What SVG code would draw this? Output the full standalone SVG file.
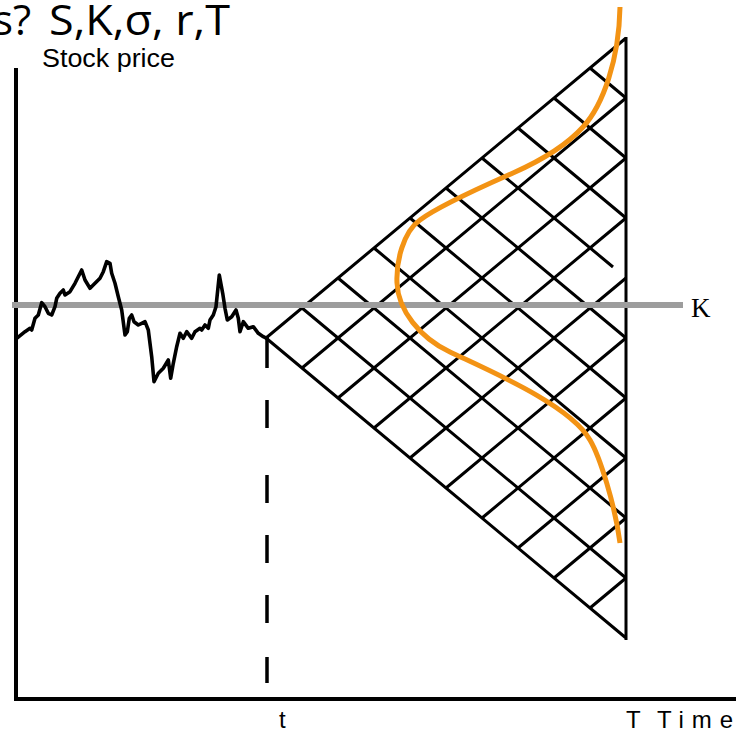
<svg xmlns="http://www.w3.org/2000/svg" width="736" height="731" viewBox="0 0 736 731">
<style>
.lat{stroke:#000;stroke-width:3;fill:none;stroke-linecap:butt}
.ax{stroke:#000;stroke-width:4;fill:none}
.lbl{font-family:"Liberation Sans",Arial,sans-serif;fill:#000}
</style>
<rect width="736" height="731" fill="#fff"/>
<g id="title">
<text class="lbl" style="font-family:'Open Sans','Liberation Sans',sans-serif" font-size="42" y="35"><tspan x="-7">s?</tspan><tspan x="49" textLength="181" lengthAdjust="spacingAndGlyphs">S,K,σ, r,T</tspan></text>
</g>
<g id="axes">
<line class="ax" x1="16" y1="68" x2="16" y2="701"/>
<line class="ax" x1="14" y1="699" x2="736" y2="699"/>
<text class="lbl" x="42" y="67" font-size="25" textLength="133" lengthAdjust="spacingAndGlyphs">Stock price</text>
<text class="lbl" x="279" y="728" font-size="24">t</text>
<text class="lbl" x="626" y="728" font-size="24">T</text>
<text class="lbl" x="657" y="728" font-size="24" textLength="76" lengthAdjust="spacing">Time</text>
</g>
<g id="lattice" class="lat">
<path d="M266,338 L626,38 M266,338 L626,638 M626,37 L626,640"/>
<path d="M302,308 L626,578 M338,278 L626,518 M374,248 L626,458 M410,218 L626,398 M446,188 L626,338 M482,158 L613,267 M518,128 L626,218 M554,98 L626,158 M590,68 L626,98"/>
<path d="M302,368 L626,98 M338,398 L626,158 M374,428 L626,218 M410,458 L626,278 M446,488 L626,338 M482,518 L626,398 M518,548 L626,458 M554,578 L626,518 M590,608 L626,578"/>
</g>
<g id="expiry-marker">
<path d="M267,337 V368 M267,400 V428 M267,475 V503 M267,535 V563 M267,595 V623 M267,657 V683" stroke="#000" stroke-width="3.5" fill="none"/>
</g>
<g id="strike">
<line x1="12" y1="305" x2="683" y2="305" stroke="#9d9d9d" stroke-width="6"/>
<text x="691" y="317" font-family="'Liberation Serif','Times New Roman',serif" font-size="27" fill="#000">K</text>
</g>
<g id="stock-path">
<polyline fill="none" stroke="#000" stroke-width="3.6" stroke-linejoin="round" stroke-linecap="round" points="16.7,338.3 25,331.7 30,328.3 31.7,330 35,318.3 38.3,315 41.7,302.7 45,306.7 48.3,313.3 51.7,315 55,306.7 56.7,298.3 60,293.3 63.3,290 65,295 70,291.7 75,283.3 81.7,270 85,280 90,288.3 95,283.3 100,278.3 103.3,271.7 106.7,261.7 110,263.3 111.7,273.3 115,283.3 118.3,296.7 121.7,310 125,335 127.3,331.7 129.3,318.3 131.7,315 134,321.7 138.3,325 141.7,323.3 145,321.7 148.3,330 151.7,356.7 154,381.7 158.3,373.3 163.3,368.3 168.3,360 170.7,378.3 173.3,363.3 176.7,346.7 180,333.3 183.3,338.3 186.7,331.7 191.7,338.3 195,331.7 200,328.3 201.7,330 205,325 208.3,328.3 210,320 213.3,315 216,306.7 219.3,275 222.7,293.3 225,308.3 227.3,320 231.7,316.7 236,310 238.3,318.3 240,331.7 243.3,321.7 248.3,328.3 253.3,326.7 258.3,333.3 263.3,336.7 266.7,338.3"/>
</g>
<g id="distribution">
<path fill="none" stroke="#f39314" stroke-width="5" d="M620,7 C619,60 603,105 583,127 C565,147 540,161 513,173 C486,185 440,205 420,220 C403,232 396,262 397,283 C398,310 420,338 450,352 C490,371 570,405 590,440 C600,457 615,505 620,543"/>
</g>
</svg>
